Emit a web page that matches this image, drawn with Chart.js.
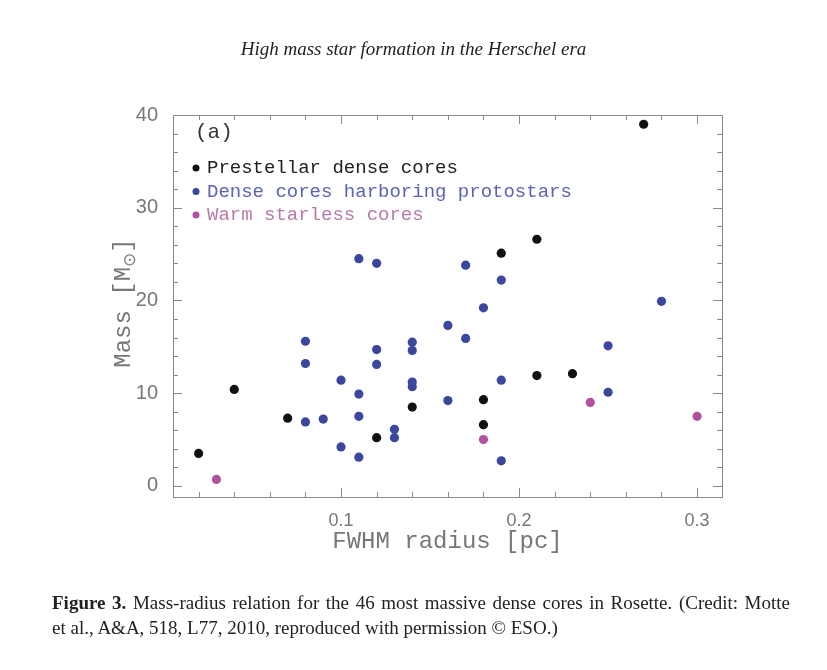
<!DOCTYPE html>
<html>
<head>
<meta charset="utf-8">
<script src="https://cdn.jsdelivr.net/npm/chart.js@4/dist/chart.umd.min.js"></script>
<style>
  body { margin: 0; background: #fff; }
  #page { position: relative; width: 827px; height: 670px; overflow: hidden; }
  #chart { position: absolute; left: 0; top: 0; }
  .head {
    position: absolute; left: 0; width: 827px; top: 38px; text-align: center;
    font: italic 19px "Liberation Serif", serif; color: #222;
  }
  .cap {
    position: absolute; left: 52px; width: 738px;
    font: 19px "Liberation Serif", serif; color: #222; white-space: nowrap;
  }
  .cap b { font-weight: bold; }
  .cap.first { top: 592px; text-align: justify; text-align-last: justify; white-space: normal; }
  .cap.second { top: 617px; }
</style>
</head>
<body>
<div id="page">
  <canvas id="chart" width="827" height="670"></canvas>
  <div class="head">High mass star formation in the Herschel era</div>
  <div class="cap first"><b>Figure 3.</b> Mass-radius relation for the 46 most massive dense cores in Rosette. (Credit: Motte</div>
  <div class="cap second">et al., A&amp;A, 518, L77, 2010, reproduced with permission &copy; ESO.)</div>
</div>
<script>
  // FWHM radius [pc] and mass [Msun]
  const prestellarRadius = [0.02, 0.04, 0.07, 0.12, 0.14, 0.18, 0.18, 0.19, 0.21, 0.21, 0.23, 0.27];
  const prestellarMass   = [3.5, 10.4, 7.3, 5.2, 8.5, 9.3, 6.6, 25.1, 26.6, 11.9, 12.1, 39.0];

  const protoRadius = [0.08, 0.08, 0.08, 0.09, 0.10, 0.10, 0.11, 0.11, 0.11, 0.11,
                       0.12, 0.12, 0.12, 0.13, 0.13, 0.14, 0.14, 0.14, 0.14, 0.16,
                       0.16, 0.17, 0.17, 0.18, 0.19, 0.19, 0.19, 0.25, 0.25, 0.28];
  const protoMass   = [15.6, 13.2, 6.9, 7.2, 11.4, 4.2, 24.5, 9.9, 7.5, 3.1,
                       24.0, 14.7, 13.1, 6.1, 5.2, 15.5, 14.6, 11.2, 10.7, 17.3,
                       9.2, 23.8, 15.9, 19.2, 22.2, 11.4, 2.7, 15.1, 10.1, 19.9];

  const warmRadius = [0.03, 0.18, 0.24, 0.30];
  const warmMass   = [0.7, 5.0, 9.0, 7.5];

  const seriesLabels = ["Prestellar dense cores", "Dense cores harboring protostars", "Warm starless cores"];
  const xMajorTicks = [0.1, 0.2, 0.3];
  const xMinorTicks = [0.02, 0.04, 0.06, 0.08, 0.10, 0.12, 0.14, 0.16, 0.18, 0.20, 0.22, 0.24, 0.26, 0.28, 0.30];
  const yMajorTicks = [0, 10, 20, 30, 40];
  const yMinorTicks = [0, 2, 4, 6, 8, 10, 12, 14, 16, 18, 20, 22, 24, 26, 28, 30, 32, 34, 36, 38, 40];

  const pointColors = ["#111111", "#3b469f", "#b0529f"];
  const textColors = ["#222222", "#5d62b4", "#b97aa9"];

  function toPoints(xs, ys) {
    return xs.map((x, i) => ({ x: x, y: ys[i] }));
  }

  // inward tick marks on all four sides plus the frame
  const frameTicks = {
    id: "frameTicks",
    beforeDatasetsDraw(chart) {
      const { ctx, chartArea: a, scales } = chart;
      const xs = scales.x, ys = scales.y;
      ctx.save();
      ctx.strokeStyle = "#8a8a8a";
      ctx.lineWidth = 1;
      ctx.strokeRect(a.left + 0.5, a.top + 0.5, a.right - a.left, a.bottom - a.top);
      ctx.beginPath();
      xMinorTicks.forEach((v) => {
        const px = Math.round(xs.getPixelForValue(v)) + 0.5;
        const len = xMajorTicks.some((m) => Math.abs(m - v) < 1e-9) ? 9 : 5;
        ctx.moveTo(px, a.bottom); ctx.lineTo(px, a.bottom - len);
        ctx.moveTo(px, a.top); ctx.lineTo(px, a.top + len);
      });
      yMinorTicks.forEach((v) => {
        const py = Math.round(ys.getPixelForValue(v)) + 0.5;
        const len = yMajorTicks.includes(v) ? 9 : 5;
        ctx.moveTo(a.left, py); ctx.lineTo(a.left + len, py);
        ctx.moveTo(a.right, py); ctx.lineTo(a.right - len, py);
      });
      ctx.stroke();
      ctx.restore();
    }
  };

  // panel tag and in-plot legend, built from the datasets
  const panelLegend = {
    id: "panelLegend",
    afterDatasetsDraw(chart) {
      const { ctx, chartArea: a } = chart;
      ctx.save();
      ctx.textBaseline = "middle";
      ctx.font = '21px "Liberation Mono", monospace';
      ctx.fillStyle = "#333";
      ctx.fillText("(a)", a.left + 22, a.top + 17);
      ctx.font = '19px "Liberation Mono", monospace';
      chart.data.datasets.forEach((ds, i) => {
        const y = a.top + 53 + i * 23.5;
        ctx.fillStyle = ds.backgroundColor;
        ctx.beginPath();
        ctx.arc(a.left + 23, y, 3.5, 0, Math.PI * 2);
        ctx.fill();
        ctx.fillStyle = textColors[i];
        ctx.fillText(ds.label, a.left + 34, y);
      });
      ctx.restore();
    }
  };

  // y title with a subscript sun symbol
  const massTitle = {
    id: "massTitle",
    afterDraw(chart) {
      const { ctx } = chart;
      const big = '24px "Liberation Mono", monospace';
      const small = '17px "DejaVu Sans", sans-serif';
      ctx.save();
      ctx.translate(124, 303);
      ctx.rotate(-Math.PI / 2);
      ctx.fillStyle = "#777";
      ctx.textBaseline = "middle";
      ctx.font = big;
      const w1 = ctx.measureText("Mass [M").width;
      ctx.font = small;
      const w2 = ctx.measureText("\u2299").width;
      ctx.font = big;
      const w3 = ctx.measureText("]").width;
      let x = -(w1 + w2 + w3) / 2;
      ctx.fillText("Mass [M", x, 0);
      x += w1;
      ctx.font = small;
      ctx.fillText("\u2299", x, 7);
      x += w2;
      ctx.font = big;
      ctx.fillText("]", x, 0);
      ctx.restore();
    }
  };

  new Chart(document.getElementById("chart"), {
    type: "scatter",
    data: {
      datasets: [
        { label: seriesLabels[0], data: toPoints(prestellarRadius, prestellarMass), backgroundColor: pointColors[0] },
        { label: seriesLabels[1], data: toPoints(protoRadius, protoMass), backgroundColor: pointColors[1] },
        { label: seriesLabels[2], data: toPoints(warmRadius, warmMass), backgroundColor: pointColors[2] }
      ]
    },
    options: {
      responsive: false,
      animation: false,
      layout: { padding: { left: 100, top: 115, right: 105, bottom: 110 } },
      elements: { point: { radius: 4.6, borderWidth: 0, hoverRadius: 4.6 } },
      plugins: { legend: { display: false }, tooltip: { enabled: false } },
      scales: {
        x: {
          type: "linear",
          min: 0.0056,
          max: 0.314,
          grid: { display: false },
          border: { display: false },
          afterBuildTicks: (scale) => { scale.ticks = xMajorTicks.map((v) => ({ value: v })); },
          afterFit: (scale) => { scale.height = 63; },
          ticks: {
            autoSkip: false,
            padding: 5,
            color: "#777",
            font: { family: "Liberation Sans", size: 18 }
          },
          title: {
            display: true,
            text: "FWHM radius [pc]",
            color: "#777",
            padding: { top: 0, bottom: 4 },
            font: { family: "Liberation Mono", size: 24 }
          }
        },
        y: {
          type: "linear",
          min: -1.2,
          max: 40,
          grid: { display: false },
          border: { display: false },
          afterBuildTicks: (scale) => { scale.ticks = yMajorTicks.map((v) => ({ value: v })); },
          afterFit: (scale) => { scale.width = 73; },
          ticks: {
            autoSkip: false,
            padding: 7,
            color: "#777",
            font: { family: "Liberation Sans", size: 20 }
          }
        }
      }
    },
    plugins: [frameTicks, panelLegend, massTitle]
  });
</script>
</body>
</html>
